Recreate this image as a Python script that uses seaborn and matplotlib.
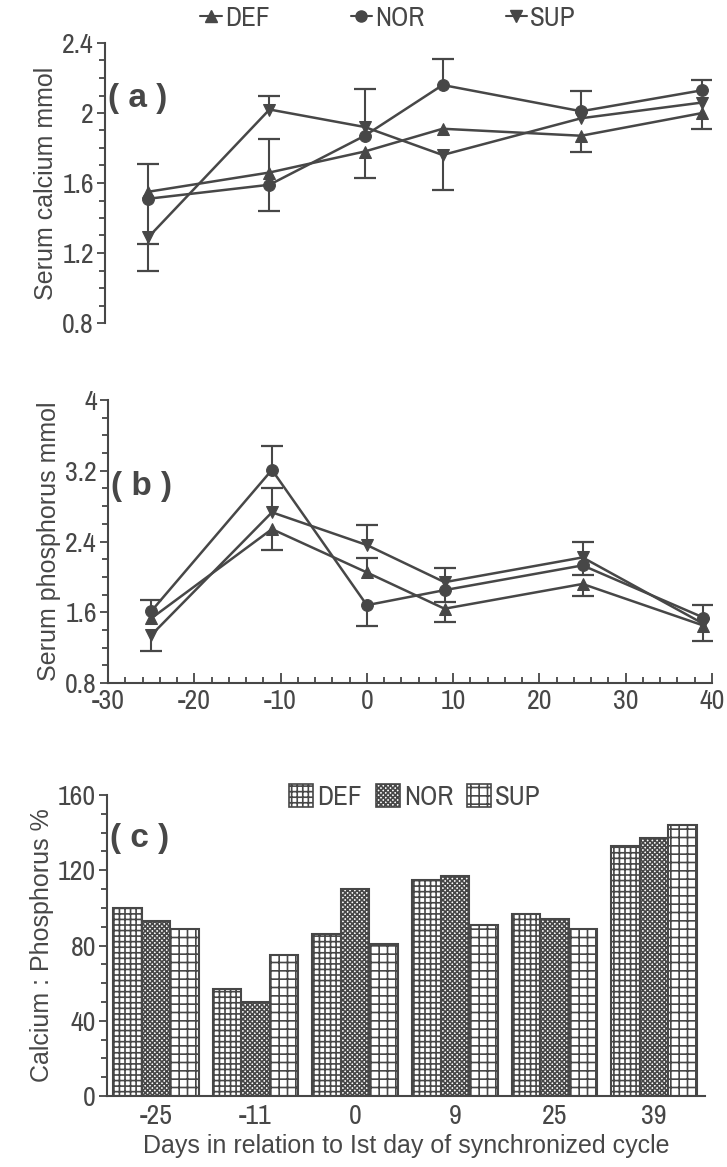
import numpy as np
import pandas as pd
import matplotlib
matplotlib.use('Agg')
import matplotlib.pyplot as plt
import seaborn as sns
from matplotlib.lines import Line2D
from matplotlib.patches import Patch
from matplotlib.ticker import MultipleLocator
from matplotlib import font_manager

# ---- data ----
days = [-25, -11, 0, 9, 25, 39]
day_labels = ['-25', '-11', '0', '9', '25', '39']
groups = ['DEF', 'NOR', 'SUP']

# (a) serum calcium, mmol
ca_def = [1.55, 1.66, 1.78, 1.91, 1.87, 2.00]
ca_nor = [1.51, 1.59, 1.87, 2.16, 2.01, 2.13]
ca_sup = [1.29, 2.02, 1.92, 1.76, 1.97, 2.06]
# visible error bar arms (0 = hidden)
ca_def_lo = [0, 0, 0.15, 0, 0.09, 0.09]
ca_def_hi = [0, 0.19, 0, 0, 0, 0]
ca_nor_lo = [0.26, 0.15, 0, 0, 0, 0]
ca_nor_hi = [0.20, 0, 0, 0.15, 0.115, 0.06]
ca_sup_lo = [0.19, 0, 0, 0.20, 0, 0]
ca_sup_hi = [0, 0.08, 0.22, 0, 0, 0]

# (b) serum phosphorus, mmol
ph_def = [1.53, 2.54, 2.05, 1.64, 1.92, 1.45]
ph_nor = [1.61, 3.21, 1.68, 1.85, 2.13, 1.54]
ph_sup = [1.34, 2.73, 2.36, 1.94, 2.22, 1.47]
ph_def_lo = [0, 0.24, 0, 0.15, 0.14, 0]
ph_def_hi = [0, 0, 0.16, 0, 0, 0]
ph_nor_lo = [0, 0, 0.23, 0.13, 0.11, 0]
ph_nor_hi = [0.13, 0.27, 0, 0, 0, 0.14]
ph_sup_lo = [0.18, 0, 0, 0, 0, 0.19]
ph_sup_hi = [0, 0.28, 0.23, 0.16, 0.18, 0]

# (c) calcium : phosphorus, %
ratio_def = [100, 57, 86, 115, 97, 133]
ratio_nor = [93, 50, 110, 117, 94, 137]
ratio_sup = [89, 75, 81, 91, 89, 144]

# ---- style ----
ink = '#474747'
sns.set_style('ticks')
names = sorted({f.name for f in font_manager.fontManager.ttflist})
narrow_opts = [n for n in names if 'Narrow' in n] + [n for n in names if 'Condensed' in n]
narrow = narrow_opts[0] if narrow_opts else 'Liberation Sans'
plt.rcParams['font.family'] = ['Liberation Sans', 'DejaVu Sans']
plt.rcParams['axes.unicode_minus'] = False
plt.rcParams['text.color'] = ink
plt.rcParams['axes.edgecolor'] = ink
plt.rcParams['axes.labelcolor'] = ink
plt.rcParams['xtick.color'] = ink
plt.rcParams['ytick.color'] = ink
plt.rcParams['hatch.color'] = ink
plt.rcParams['hatch.linewidth'] = 1.2

markers = {'DEF': '^', 'NOR': 'o', 'SUP': 'v'}
W, H = 727, 1167

fig = plt.figure(figsize=(W / 100, H / 100), dpi=100)
fig.patch.set_facecolor('white')


def box(l, t, r, b):
    return [l / W, 1 - b / H, (r - l) / W, (b - t) / H]


ax_a = fig.add_axes(box(105, 43, 711, 323))
ax_b = fig.add_axes(box(108, 400, 712, 683))
ax_c = fig.add_axes(box(107, 795, 705, 1096))


def draw_lines(ax, vals, lo, hi):
    df = pd.DataFrame({'day': days * 3,
                       'value': sum(vals, []),
                       'group': np.repeat(groups, len(days))})
    sns.lineplot(data=df, x='day', y='value', hue='group', style='group',
                 markers=markers, dashes=False, palette={g: ink for g in groups},
                 markersize=8.5, linewidth=1.8, markeredgecolor=ink,
                 legend=False, errorbar=None, ax=ax)
    x = np.array(days, dtype=float)
    for v, l, h in zip(vals, lo, hi):
        v, l, h = np.array(v), np.array(l), np.array(h)
        for arm, sign in ((h, 1), (l, -1)):
            m = arm > 0
            ends = v[m] + sign * arm[m]
            ax.vlines(x[m], v[m], ends, color=ink, lw=1.5)
            ax.plot(x[m], ends, ls='none', marker='_', ms=16, mew=1.6, color=ink)


draw_lines(ax_a, [ca_def, ca_nor, ca_sup],
           [ca_def_lo, ca_nor_lo, ca_sup_lo], [ca_def_hi, ca_nor_hi, ca_sup_hi])
draw_lines(ax_b, [ph_def, ph_nor, ph_sup],
           [ph_def_lo, ph_nor_lo, ph_sup_lo], [ph_def_hi, ph_nor_hi, ph_sup_hi])

# panel (a)
ax_a.set_xlim(-30, 40)
ax_a.set_ylim(0.8, 2.4)
ax_a.set_yticks([0.8, 1.2, 1.6, 2.0, 2.4], ['0.8', '1.2', '1.6', '2', '2.4'])
ax_a.yaxis.set_minor_locator(MultipleLocator(0.1))
ax_a.set_xticks([])
ax_a.set_xlabel('')
ax_a.set_ylabel('Serum calcium mmol', fontsize=18, labelpad=3)
sns.despine(ax=ax_a, bottom=True)

# panel (b)
ax_b.set_xlim(-30, 40)
ax_b.set_ylim(0.8, 4.0)
ax_b.set_yticks([0.8, 1.6, 2.4, 3.2, 4.0], ['0.8', '1.6', '2.4', '3.2', '4'])
ax_b.yaxis.set_minor_locator(MultipleLocator(0.2))
ax_b.set_xticks(range(-30, 41, 10))
ax_b.xaxis.set_minor_locator(MultipleLocator(2))
ax_b.tick_params(axis='x', which='both', direction='in')
ax_b.set_xlabel('')
ax_b.set_ylabel('Serum phosphorus mmol', fontsize=18, labelpad=3)
sns.despine(ax=ax_b)

# panel (c)
ratio_df = pd.DataFrame({'day': day_labels * 3,
                         'ratio': ratio_def + ratio_nor + ratio_sup,
                         'group': np.repeat(groups, len(days))})
sns.barplot(data=ratio_df, x='day', y='ratio', hue='group', order=day_labels,
            hue_order=groups, palette={g: 'white' for g in groups},
            edgecolor=ink, linewidth=1.5, width=0.86, saturation=1,
            legend=False, ax=ax_c)
hatches = {'DEF': '+++', 'NOR': 'xxxxxxx', 'SUP': '++'}
for cont, g in zip(ax_c.containers, groups):
    for bar in cont:
        bar.set_hatch(hatches[g])
ax_c.set_xlim(-0.49, 5.51)
ax_c.set_ylim(0, 160)
ax_c.yaxis.set_major_locator(MultipleLocator(40))
ax_c.yaxis.set_minor_locator(MultipleLocator(10))
ax_c.tick_params(axis='x', length=0, pad=6)
ax_c.set_xlabel('Days in relation to Ist day of synchronized cycle', fontsize=18, labelpad=3)
ax_c.set_ylabel('Calcium : Phosphorus %', fontsize=18, labelpad=3)
sns.despine(ax=ax_c)

for ax in (ax_a, ax_b, ax_c):
    ax.set_facecolor('none')
    ax.tick_params(axis='both', which='major', labelsize=20,
                   labelfontfamily=narrow, width=1.3)
    ax.tick_params(axis='y', which='major', length=6, pad=2)
    ax.tick_params(axis='y', which='minor', length=4, width=1.3)
    for s in ax.spines.values():
        s.set_linewidth(1.5)
ax_b.tick_params(axis='x', which='major', length=7, pad=4)
ax_b.tick_params(axis='x', which='minor', length=4, width=1.3)

# panel letters
for ax, letter, y in ((ax_a, '( a )', 0.80), (ax_b, '( b )', 0.695), (ax_c, '( c )', 0.855)):
    ax.text(0.005, y, letter, transform=ax.transAxes, fontsize=24,
            fontweight='bold', va='center', ha='left', color=ink)

# legends
line_handles = [Line2D([], [], color=ink, marker=markers[g], lw=1.5, ms=8,
                       markeredgecolor=ink) for g in groups]
fig.legend(line_handles, groups, loc='center', bbox_to_anchor=(388 / W, 1 - 18 / H),
           ncol=3, frameon=False, handlelength=0.8, handletextpad=0.1,
           columnspacing=3.0, prop={'family': narrow, 'size': 19.5})

bar_handles = [Patch(facecolor='white', edgecolor=ink, hatch=hatches[g], lw=1.2)
               for g in groups]
fig.legend(bar_handles, groups, loc='center', bbox_to_anchor=(415 / W, 1 - 797 / H),
           ncol=3, frameon=False, handlelength=0.9, handleheight=0.9,
           handletextpad=0.15, columnspacing=0.5,
           prop={'family': narrow, 'size': 19.5})

fig.savefig('out.png', dpi=100, facecolor='white')
